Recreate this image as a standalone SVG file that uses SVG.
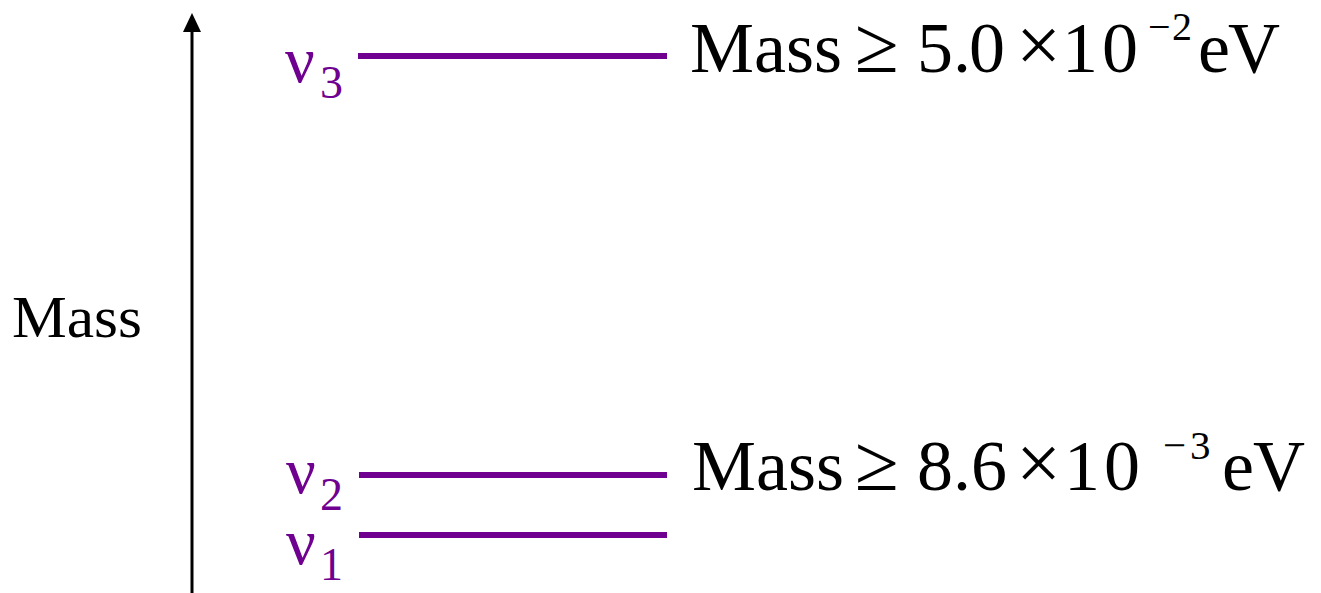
<svg xmlns="http://www.w3.org/2000/svg" width="1321" height="593" viewBox="0 0 1321 593">
<style>
.lvl{stroke:#6f0090;stroke-width:6;fill:none}
.nu{font-family:"Liberation Serif",serif;fill:#6f0090}
.m{font-family:"Liberation Serif",serif;fill:#000}
.op{font-family:"Liberation Serif",serif;fill:#000;font-size:80px}
</style>
<rect width="1321" height="593" fill="#fff"/>
<g id="connectors">
<line x1="192" y1="593" x2="192" y2="28" stroke="#000" stroke-width="3"/>
<polygon points="192,13 201,32 183,32" fill="#000"/>
</g>
<g id="axis-label">
<text class="m" x="12" y="337" font-size="59" textLength="130" lengthAdjust="spacingAndGlyphs">Mass</text>
</g>
<g id="nu3">
<line class="lvl" x1="358" y1="56" x2="667" y2="56"/>
<text class="nu" x="285" y="82" font-size="66">ν</text>
<text class="nu" x="320" y="98" font-size="46">3</text>
</g>
<g id="nu2">
<line class="lvl" x1="359" y1="475" x2="667" y2="475"/>
<text class="nu" x="286" y="493" font-size="66">ν</text>
<text class="nu" x="320" y="510" font-size="46">2</text>
</g>
<g id="nu1">
<line class="lvl" x1="359" y1="535" x2="667" y2="535"/>
<text class="nu" x="286" y="564" font-size="66">ν</text>
<text class="nu" x="320" y="580" font-size="46">1</text>
</g>
<g id="label-top">
<text class="m" y="72" font-size="72"><tspan x="690">Mass</tspan><tspan x="917">5</tspan><tspan x="953">.</tspan><tspan x="969">0</tspan><tspan x="1062">1</tspan><tspan x="1102">0</tspan><tspan x="1198">e</tspan><tspan x="1228">V</tspan></text>
<text class="op" x="855" y="72">≥</text>
<text class="op" x="1016" y="72">×</text>
<text class="m" y="40" font-size="40"><tspan x="1148">−</tspan><tspan x="1172">2</tspan></text>
</g>
<g id="label-bottom">
<text class="m" y="490" font-size="72"><tspan x="692">Mass</tspan><tspan x="917">8</tspan><tspan x="953">.</tspan><tspan x="971">6</tspan><tspan x="1064">1</tspan><tspan x="1104">0</tspan><tspan x="1222">e</tspan><tspan x="1253">V</tspan></text>
<text class="op" x="855" y="490">≥</text>
<text class="op" x="1016" y="490">×</text>
<text class="m" y="459" font-size="41"><tspan x="1163">−</tspan><tspan x="1190">3</tspan></text>
</g>
</svg>
